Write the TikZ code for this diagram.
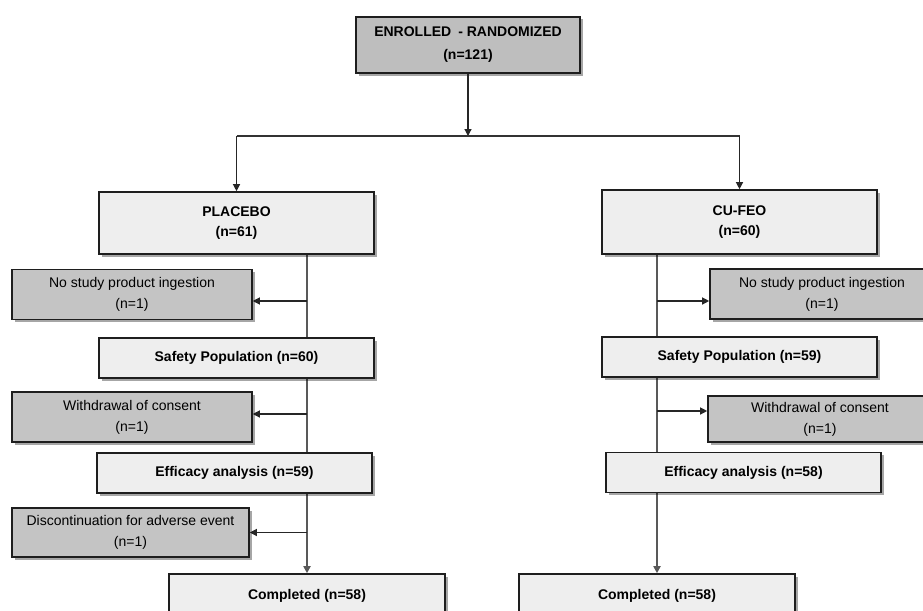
\documentclass[tikz,border=0pt]{standalone}
\usepackage{fontspec}
\setmainfont{Liberation Sans}
\usetikzlibrary{arrows.meta,shadows,calc,backgrounds}
\definecolor{lightbox}{HTML}{EEEEEE}
\definecolor{darkbox}{HTML}{C4C4C4}
\definecolor{topbox}{HTML}{BEBEBE}
\definecolor{edgecol}{HTML}{1E1E1E}
\begin{document}
\begin{tikzpicture}[x=1pt,y=-1pt,
  box/.style={draw=edgecol, line width=1.6pt, fill=lightbox,
    drop shadow={shadow xshift=2.5pt,shadow yshift=-2.5pt,fill=black,opacity=0.35},
    font=\bfseries\fontsize{14}{20}\selectfont, align=center, inner sep=0pt,
    minimum width=275pt, minimum height=40pt},
  side/.style={box, fill=darkbox, font=\fontsize{14}{21}\selectfont,
    minimum width=240pt, minimum height=50pt},
  arr/.style={-{Triangle[length=7pt,width=7pt]}, draw=black!85, line width=1.2pt},
  plainline/.style={draw=black!80, line width=1.2pt},
  trunk/.style={-{Triangle[length=7pt,width=7pt]}, draw=black!65, line width=1.8pt}
]
\clip (0,0) rectangle (923,610);

% top
\node[box, fill=topbox, minimum width=224pt, minimum height=56pt, font=\bfseries\fontsize{14}{23}\selectfont] (top) at (468,45) {ENROLLED\enspace- RANDOMIZED\\(n=121)};

% left arm
\node[box, minimum height=62pt] (plac) at (236.5,223) {PLACEBO\\(n=61)};
\node[side] (ns1) at (132,294.5) {No study product ingestion\\(n=1)};
\node[box] (sp1) at (236.5,358) {Safety Population (n=60)};
\node[side] (wd1) at (132,417) {Withdrawal of consent\\(n=1)};
\node[box] (ef1) at (234.5,473) {Efficacy analysis (n=59)};
\node[side, minimum width=237pt, minimum height=49pt] (dc1) at (130.5,532.5) {Discontinuation for adverse event\\(n=1)};
\node[box, minimum width=276pt, minimum height=44pt] (co1) at (307,596) {Completed (n=58)};

% right arm
\node[box, minimum height=64pt] (cufeo) at (739.5,222) {CU-FEO\\(n=60)};
\node[side, minimum width=224pt, minimum height=50pt] (ns2) at (822,294) {No study product ingestion\\(n=1)};
\node[box] (sp2) at (739.5,357) {Safety Population (n=59)};
\node[side, minimum width=224pt, minimum height=46pt] (wd2) at (820,419) {Withdrawal of consent\\(n=1)};
\node[box] (ef2) at (743.5,472.5) {Efficacy analysis (n=58)};
\node[box, minimum width=276pt, minimum height=44pt] (co2) at (657,596) {Completed (n=58)};

% top split
\coordinate (bus) at (468,136);
\draw[arr] (top.south) -- (bus);
\draw[plainline] (plac.north |- bus) -- (cufeo.north |- bus);
\draw[arr] (plac.north |- bus) -- (plac.north);
\draw[arr] (cufeo.north |- bus) -- (cufeo.north);

\begin{scope}[on background layer]
\fill[white] (0,0) rectangle (923,610);
% left trunk and branches
\draw[trunk] (co1.north |- plac.south) -- (co1.north);
\draw[arr] ([yshift=-6.5pt]ns1.east -| co1.north) -- ([yshift=-6.5pt]ns1.east);
\draw[arr] ([yshift=3pt]wd1.east -| co1.north) -- ([yshift=3pt]wd1.east);
\draw[arr] (dc1.east -| co1.north) -- (dc1.east);
% right trunk and branches
\draw[trunk] (co2.north |- cufeo.south) -- (co2.north);
\draw[arr] ([yshift=-7pt]ns2.west -| co2.north) -- ([yshift=-7pt]ns2.west);
\draw[arr] ([yshift=8pt]wd2.west -| co2.north) -- ([yshift=8pt]wd2.west);
\end{scope}
\end{tikzpicture}
\end{document}
